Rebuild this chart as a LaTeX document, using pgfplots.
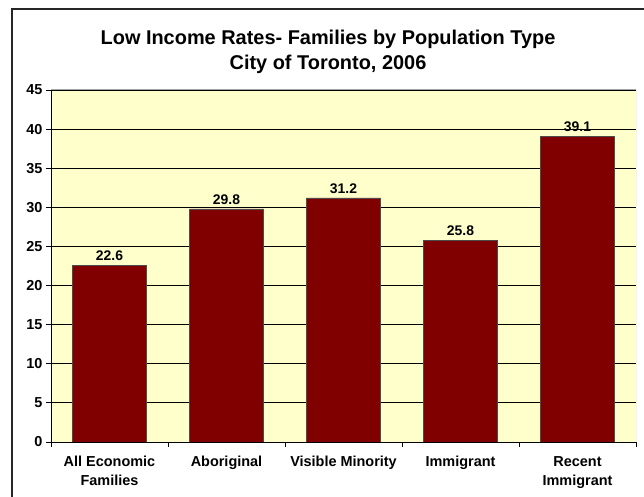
\documentclass[border=0pt]{standalone}
\usepackage{pgfplots}
\pgfplotsset{compat=1.18}
\usepackage{fontspec}
\setmainfont{Liberation Sans}
\definecolor{barred}{HTML}{800000}
\definecolor{plotbg}{HTML}{FFFFCC}
\begin{document}
\begin{tikzpicture}[x=1bp,y=1bp]
\useasboundingbox (0,0) rectangle (644,497);
\draw[line width=1.2bp, black!85] (12,-5) -- (12,488) -- (650,488);
\node[font=\fontsize{20}{24}\selectfont\bfseries, anchor=base] at (328,452) {Low Income Rates- Families by Population Type};
\node[font=\fontsize{20}{24}\selectfont\bfseries, anchor=base] at (328,427) {City of Toronto, 2006};
\begin{axis}[at={(51bp,55bp)}, anchor=south west,
  width=585bp, height=352bp, scale only axis,
  xmin=-0.5, xmax=4.5, ymin=0, ymax=45,
  /pgf/number format/assume math mode=true,
  axis background/.style={fill=plotbg},
  axis x line*=bottom, axis y line*=left,
  axis line style={-, black, line width=0.8bp},
  ytick={0,5,...,45},
  xtick={0,1,2,3,4},
  xticklabels={{All Economic\\Families},Aboriginal,{Visible Minority},Immigrant,{Recent\\Immigrant}},
  minor xtick={-0.5,0.5,1.5,2.5,3.5,4.5},
  major x tick style={draw=none},
  tick align=outside,
  major tick length=5bp, minor tick length=5bp,
  tick style={black, line width=0.8bp},
  ymajorgrids, major grid style={black, line width=0.8bp},
  xticklabel style={align=center, font=\bfseries\fontsize{14.5}{19}\selectfont, anchor=north, yshift=-6bp},
  yticklabel style={font=\bfseries\fontsize{14.5}{16}\selectfont},
]
\addplot[ybar, bar width=74bp, fill=barred, draw=black!70, line width=0.6bp,
  nodes near coords, every node near coord/.append style={font=\bfseries\fontsize{14}{16}\selectfont, black, yshift=1bp}]
  coordinates {(0,22.6) (1,29.8) (2,31.2) (3,25.8) (4,39.1)};
\draw[gray!70, line width=1bp] (rel axis cs:0,1) -- (rel axis cs:1,1) -- (rel axis cs:1,0);
\end{axis}
\end{tikzpicture}
\end{document}
